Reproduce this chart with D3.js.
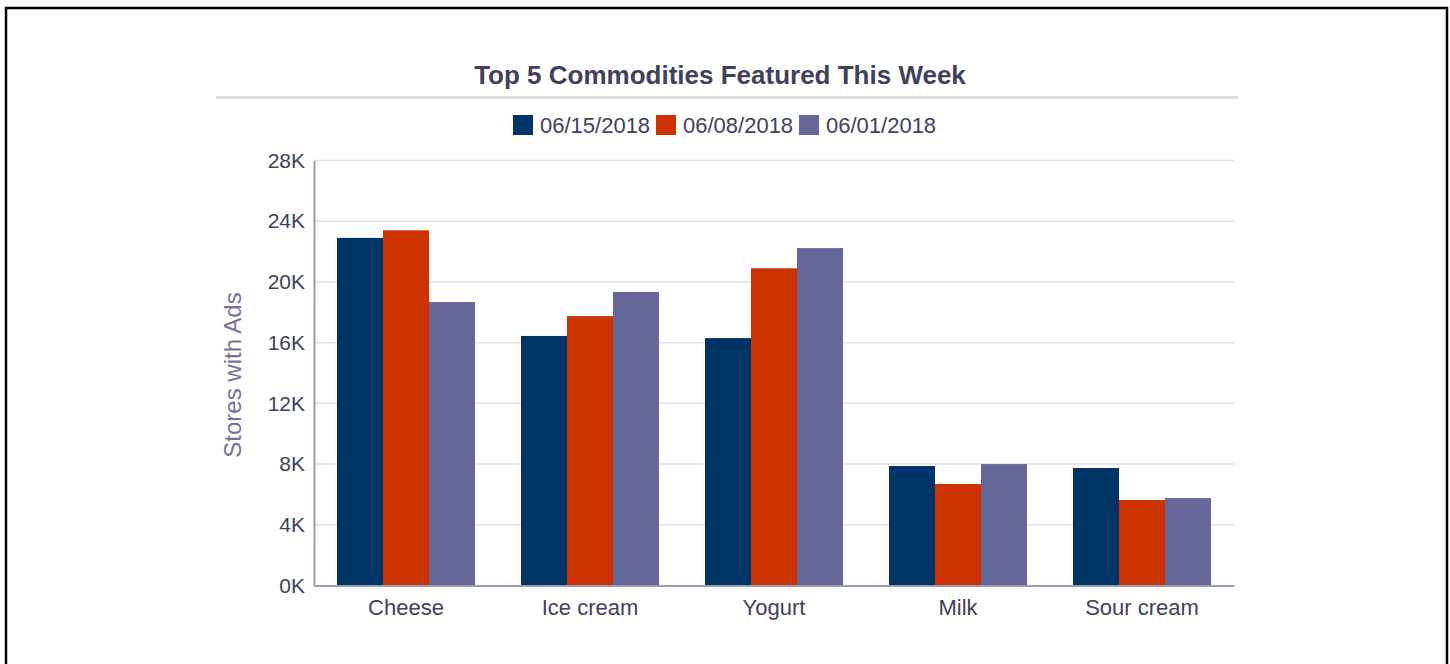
<!DOCTYPE html>
<html>
<head>
<meta charset="utf-8">
<script src="https://cdn.jsdelivr.net/npm/d3@7"></script>
<style>
  html, body { margin: 0; padding: 0; background: #fff; }
  svg { display: block; font-family: "Liberation Sans", Arial, sans-serif; }
</style>
</head>
<body>
<svg id="chart" width="1450" height="664"></svg>
<script>
// Commodities on the x axis
const categories = ["Cheese", "Ice cream", "Yogurt", "Milk", "Sour cream"];
// Weekly series (stores with ads), one value per commodity
const seriesNames = ["06/15/2018", "06/08/2018", "06/01/2018"];
const week0615 = [22900, 16440, 16300, 7870, 7740];
const week0608 = [23400, 17750, 20900, 6690, 5630];
const week0601 = [18680, 19340, 22230, 8000, 5760];
const yTicks = [0, 4000, 8000, 12000, 16000, 20000, 24000, 28000];
const colors = ["#003366", "#cc3300", "#666699"];

const series = [week0615, week0608, week0601];
const FONT = "'Liberation Sans', Arial, sans-serif";

const svg = d3.select("#chart");

// Frame
svg.append("path")
  .attr("d", "M6,664 L6,8 L1447,8 L1447,664")
  .attr("fill", "none").attr("stroke", "#000").attr("stroke-width", 2.5);

const plotLeft = 314, plotRight = 1234, plotTop = 160.5, plotBottom = 585.5;

const x = d3.scaleBand().domain(categories).range([plotLeft, plotRight])
  .paddingInner(0.25).paddingOuter(0.125);
const xs = d3.scaleBand().domain(d3.range(seriesNames.length)).range([0, x.bandwidth()]);
const y = d3.scaleLinear().domain([0, 28000]).range([plotBottom, plotTop]);

// Title
svg.append("text")
  .attr("x", 720).attr("y", 83.5)
  .attr("text-anchor", "middle")
  .attr("font-size", 26).attr("font-weight", "bold")
  .attr("fill", "#41415a")
  .text("Top 5 Commodities Featured This Week");
svg.append("line")
  .attr("x1", 216).attr("x2", 1238).attr("y1", 97.5).attr("y2", 97.5)
  .attr("stroke", "#dcdce6").attr("stroke-width", 3);

// Legend
const legendX = [513, 656, 799];
const legend = svg.append("g");
seriesNames.forEach((name, i) => {
  legend.append("rect")
    .attr("x", legendX[i]).attr("y", 115).attr("width", 20).attr("height", 20)
    .attr("fill", colors[i]);
  legend.append("text")
    .attr("x", legendX[i] + 27).attr("y", 133)
    .attr("font-size", 22).attr("fill", "#41415a")
    .text(name);
});

// Gridlines
svg.append("g")
  .selectAll("line").data(yTicks.filter(d => d > 0)).join("line")
  .attr("x1", plotLeft).attr("x2", plotRight)
  .attr("y1", d => y(d)).attr("y2", d => y(d))
  .attr("stroke", "#e2e2ec").attr("stroke-width", 1.5);

// Y axis
const yAxis = svg.append("g")
  .attr("transform", `translate(${plotLeft},0)`)
  .call(d3.axisLeft(y).tickValues(yTicks).tickSize(0).tickPadding(9)
    .tickFormat(d => (d / 1000) + "K"));
yAxis.attr("font-family", FONT);
yAxis.select(".domain").attr("stroke", "#9999bb").attr("stroke-width", 2);
yAxis.selectAll("text")
  .attr("font-size", 21).attr("fill", "#41415a");

// Y axis title
svg.append("text")
  .attr("transform", `translate(241,${(plotTop + plotBottom) / 2 + 2}) rotate(-90)`)
  .attr("text-anchor", "middle")
  .attr("font-size", 24).attr("fill", "#7373a0")
  .text("Stores with Ads");

// Bars
const groups = svg.append("g").selectAll("g").data(categories).join("g")
  .attr("transform", d => `translate(${x(d)},0)`);
groups.selectAll("rect")
  .data((c, ci) => series.map((s, si) => ({ si, v: s[ci] })))
  .join("rect")
  .attr("x", d => xs(d.si))
  .attr("width", xs.bandwidth())
  .attr("y", d => y(d.v))
  .attr("height", d => y(0) - y(d.v))
  .attr("fill", d => colors[d.si]);

// X axis
const xAxis = svg.append("g")
  .attr("transform", `translate(0,${plotBottom})`)
  .call(d3.axisBottom(x).tickSize(0).tickPadding(14));
xAxis.attr("font-family", FONT);
xAxis.select(".domain").attr("stroke", "#9999bb").attr("stroke-width", 2);
xAxis.selectAll("text")
  .attr("font-size", 22).attr("fill", "#41415a");
</script>
</body>
</html>
